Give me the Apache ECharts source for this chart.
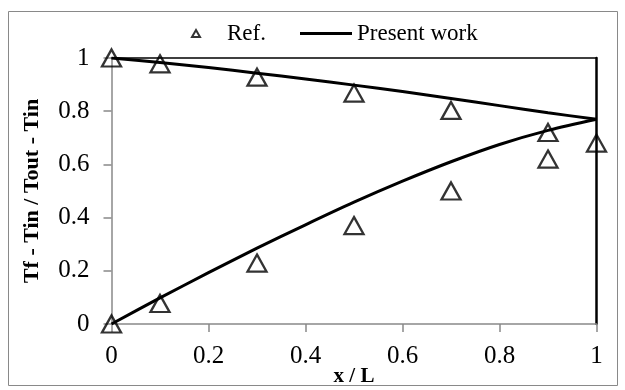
<!DOCTYPE html>
<html>
<head>
<meta charset="utf-8">
<script src="https://cdn.jsdelivr.net/npm/echarts@6/dist/echarts.min.js"></script>
<style>
  html, body { margin: 0; padding: 0; background: #fff; }
  #chart { width: 625px; height: 390px; }
</style>
</head>
<body>
<div id="chart"></div>
<script>
// reference points (triangles), two branches
const refX = [0, 0.1, 0.3, 0.5, 0.7, 0.9, 1]
const refUpper = [1, 0.978, 0.928, 0.868, 0.803, 0.72, 0.68]
const refLower = [0, 0.077, 0.229, 0.37, 0.5, 0.62]

// present work curves
const curveX = [0, 0.1, 0.2, 0.3, 0.4, 0.5, 0.6, 0.7, 0.8, 0.9, 1]
const curveUpper = [1, 0.983, 0.964, 0.943, 0.921, 0.898, 0.874, 0.848, 0.821, 0.794, 0.77]
const curveLower = [0, 0.098, 0.193, 0.285, 0.373, 0.458, 0.537, 0.61, 0.675, 0.728, 0.77]

const ticks = [0, 0.2, 0.4, 0.6, 0.8, 1]

const pairs = (xs, ys) => ys.map((y, i) => [xs[i], y])
const refData = pairs(refX, refUpper).concat(pairs(refX, refLower))
const tickFmt = v => String(ticks.find(t => Math.abs(t - v) < 1e-6) ?? v)

const serif = 'Liberation Serif'
const gray = '#898989'
const chart = echarts.init(document.getElementById('chart'))

const option = {
  animation: false,
  graphic: [{
    type: 'rect',
    shape: { x: 8.5, y: 11.5, width: 609, height: 374 },
    style: { fill: 'none', stroke: gray, lineWidth: 1 }
  }],
  legend: [
    {
      data: [{ name: 'Ref.', icon: 'triangle', itemStyle: { color: 'none', borderColor: '#000', borderWidth: 2 } }],
      left: 184.5, top: 17,
      itemWidth: 8, itemHeight: 7,
      textStyle: { fontFamily: serif, fontSize: 23, color: '#000', padding: [0, 0, 0, 22] }
    },
    {
      data: [{ name: 'Present work', icon: 'rect', itemStyle: { color: '#000', borderWidth: 0 } }],
      left: 295, top: 17,
      itemWidth: 52, itemHeight: 3,
      textStyle: { fontFamily: serif, fontSize: 23, color: '#000' }
    }
  ],
  grid: { left: 111.5, right: 28.5, top: 58, bottom: 66, outerBoundsMode: 'none' },
  xAxis: [
    {
      type: 'value', min: 0, max: 1, interval: 0.2,
      name: 'x / L', nameLocation: 'middle', nameGap: 42, nameMoveOverlap: false,
      nameTextStyle: { fontFamily: serif, fontWeight: 'bold', fontSize: 21, color: '#000' },
      axisLine: { onZero: false, lineStyle: { color: gray, width: 1.5 } },
      axisTick: { show: true, inside: false, length: 8, lineStyle: { color: gray, width: 1.5 } },
      axisLabel: { fontFamily: serif, fontSize: 25, color: '#000', margin: 20, formatter: tickFmt },
      splitLine: { show: false }
    },
    {
      type: 'value', min: 0, max: 1, position: 'top',
      axisLine: { show: true, onZero: false, lineStyle: { color: '#000', width: 1.5 } },
      axisTick: { show: false }, axisLabel: { show: false }, splitLine: { show: false }
    }
  ],
  yAxis: [
    {
      type: 'value', min: 0, max: 1, interval: 0.2,
      name: 'Tf - Tin / Tout - Tin', nameLocation: 'middle', nameGap: 68, nameMoveOverlap: false,
      nameTextStyle: { fontFamily: serif, fontWeight: 'bold', fontSize: 22, color: '#000' },
      axisLine: { show: true, onZero: false, lineStyle: { color: gray, width: 1.5 } },
      axisTick: { show: true, inside: false, length: 8, lineStyle: { color: gray, width: 1.5 } },
      axisLabel: { fontFamily: serif, fontSize: 25, color: '#000', margin: 22, formatter: tickFmt },
      splitLine: { show: false }
    },
    {
      type: 'value', min: 0, max: 1, position: 'right',
      axisLine: { show: true, onZero: false, lineStyle: { color: '#000', width: 2.5 } },
      axisTick: { show: false }, axisLabel: { show: false }, splitLine: { show: false }
    }
  ],
  series: [
    {
      name: 'Ref.', type: 'scatter',
      data: refData,
      symbol: 'triangle', symbolSize: [19, 17],
      itemStyle: { color: 'none', borderColor: '#000', borderWidth: 2.3 },
      z: 2
    },
    {
      name: 'Present work', type: 'line',
      data: pairs(curveX, curveUpper),
      smooth: 0.3, showSymbol: false,
      lineStyle: { color: '#000', width: 3 },
      z: 3
    },
    {
      name: 'Present work', type: 'line',
      data: pairs(curveX, curveLower),
      smooth: 0.3, showSymbol: false,
      lineStyle: { color: '#000', width: 3 },
      z: 3
    }
  ]
}

chart.setOption(option)
</script>
</body>
</html>
